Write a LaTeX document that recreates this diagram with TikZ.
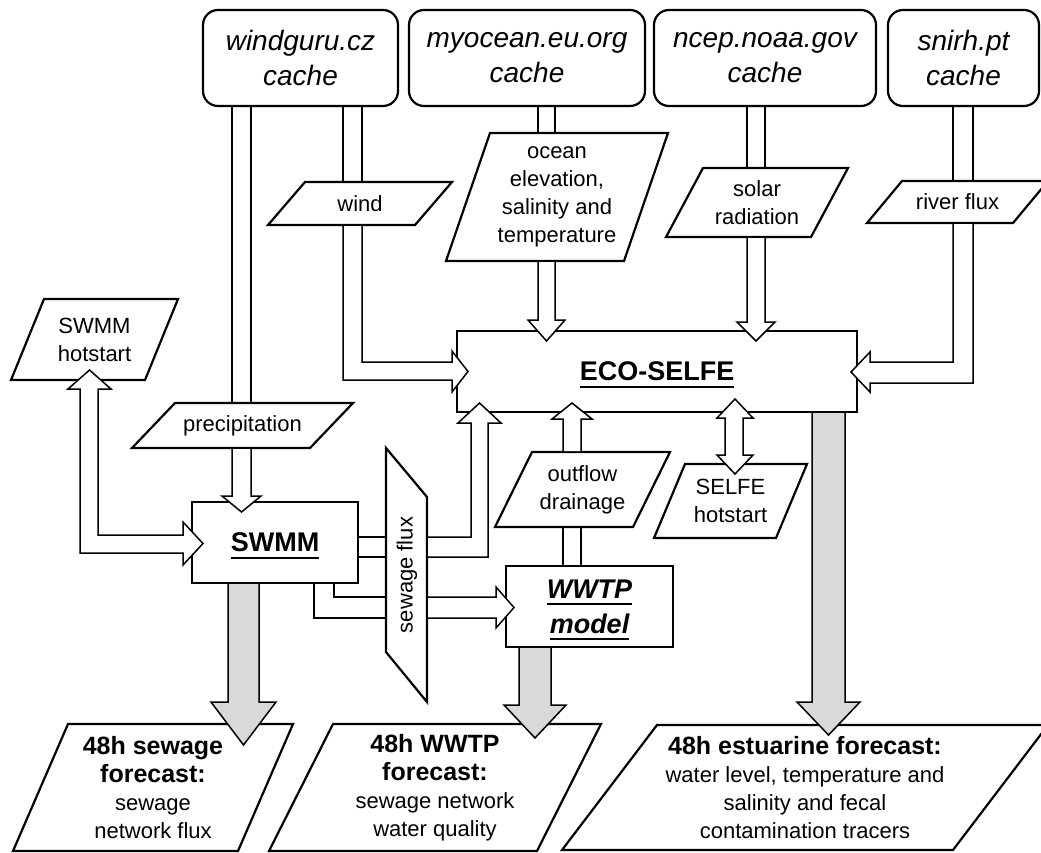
\documentclass[tikz,border=0pt]{standalone}
\usepackage{fontspec}
\setmainfont{Liberation Sans}
\definecolor{outgray}{RGB}{217,217,217}
% thick underline that does not add depth to the line
\newcommand{\ulword}[1]{\setbox0=\hbox{#1}\rlap{\smash{\rule[-7pt]{\wd0}{2pt}}}\box0}
% bold heading line inside forecast boxes
\newcommand{\fcbold}[1]{{\fontsize{25}{28}\selectfont\bfseries #1}}
% data parallelogram: name, x top-left, y top, x top-right, y bottom, slant, text
\newcommand{\plgram}[7]{%
  \draw[plg] (#2,#3) -- (#4,#3) -- ({#4-#6},#5) -- ({#2-#6},#5) -- cycle;
  \node[lbl] (#1) at ({(#2+#4-#6)/2},{(#3+#5)/2}) {#7};}
\tikzset{
  boxline/.style={draw, line width=2.2pt, inner sep=0pt},
  cache/.style={boxline, rounded corners=15pt, align=center,
    font=\fontsize{28}{35}\selectfont\itshape},
  model/.style={boxline, align=center, font=\fontsize{27}{35}\selectfont\bfseries},
  plg/.style={draw, line width=2.2pt, line join=miter},
  lbl/.style={inner sep=0pt, align=center, font=\fontsize{22}{28}\selectfont},
  hollow/.style={draw, line width=1.5pt, fill=white, line join=miter},
  rail/.style={draw, line width=1.5pt},
  solidout/.style={draw, line width=1.5pt, fill=outgray, line join=miter}
}
\begin{document}
\begin{tikzpicture}[x=1pt,y=-1pt]
\useasboundingbox (0,0) rectangle (1041,852);
\clip (0,0) rectangle (1041,852);

% data sources
\node[cache, minimum width=195, minimum height=96] (wg) at (300.5,58) {windguru.cz\\cache};
\node[cache, minimum width=236, minimum height=96] (mo) at (527,58) {myocean.eu.org\\cache};
\node[cache, minimum width=222, minimum height=96] (nc) at (765,58) {ncep.noaa.gov\\cache};
\node[cache, minimum width=151, minimum height=96] (sn) at (963.5,58) {snirh.pt\\cache};

% models
\node[model, minimum width=400, minimum height=81] (eco) at (657,371.5) {\ulword{ECO-SELFE}};
\node[model, minimum width=166, minimum height=81] (swmm) at (275,542.5) {\ulword{SWMM}};
\node[model, minimum width=167, minimum height=81,
  font=\fontsize{27}{35}\selectfont\bfseries\itshape] (wwtp) at (589.5,606.5) {\ulword{WWTP}\\\ulword{model}};

% sewage flux splitter
\draw[plg] (386,448) -- (427,497) -- (427,702) -- (386,652) -- cycle;
\node[lbl, rotate=90] (sflux) at (407,575) {sewage flux};

% data parallelograms
\plgram{wind}{305}{182}{452}{225}{37}{wind}
\plgram{prec}{175}{403}{353}{448}{43}{precipitation}
\plgram{ocean}{490}{133}{668}{261}{44}{ocean\\elevation,\\salinity and\\temperature}
\plgram{solar}{703}{168}{848}{237}{37}{solar\\radiation}
\plgram{river}{902}{181}{1048}{223}{35}{river flux}
\plgram{swhot}{44}{299}{178}{380}{33}{SWMM\\hotstart}
\plgram{outfl}{532}{452}{670}{527}{37}{outflow\\drainage}
\plgram{sehot}{685}{464}{807}{538}{31}{SELFE\\hotstart}
\plgram{sewfc}{68}{724}{293}{851}{55}{\fcbold{48h sewage}\\\fcbold{forecast:}\\sewage\\network flux}
\plgram{wwtpfc}{333}{724}{601}{851}{64}{\fcbold{48h WWTP}\\\fcbold{forecast:}\\sewage network\\water quality}
\plgram{estfc}{657}{725}{1048}{850}{95}{\fcbold{48h estuarine forecast:}\\water level, temperature and\\salinity and fecal\\contamination tracers}

% windguru -> precipitation -> SWMM
\draw[rail] (232,107) -- (232,403) (251,107) -- (251,403);
\draw[hollow] (232,449) -- (232,496) -- (222,496) -- (241.5,512) -- (261,496) -- (251,496) -- (251,449);

% windguru -> wind -> ECO-SELFE
\draw[rail] (343,107) -- (343,182) (362,107) -- (362,182);
\draw[hollow] (343,226) -- (343,380) -- (452,380) -- (452,392) -- (468,371.5) -- (452,351) -- (452,362) -- (362,362) -- (362,226);

% myocean -> ocean -> ECO-SELFE
\draw[rail] (538,107) -- (538,133) (555,107) -- (555,133);
\draw[hollow] (538,262) -- (538,320) -- (528,320) -- (546.5,341) -- (565,320) -- (555,320) -- (555,262);

% ncep -> solar -> ECO-SELFE
\draw[rail] (747,107) -- (747,168) (765,107) -- (765,168);
\draw[hollow] (747,238) -- (747,322) -- (737,322) -- (756,341) -- (775,322) -- (765,322) -- (765,238);

% snirh -> river flux -> ECO-SELFE
\draw[rail] (953,107) -- (953,181) (973,107) -- (973,181);
\draw[hollow] (953,224) -- (953,362) -- (870,362) -- (870,352) -- (851,372) -- (870,392) -- (870,383) -- (973,383) -- (973,224);

% SWMM hotstart <-> SWMM
\draw[hollow] (98,389) -- (111,389) -- (89.5,370) -- (68,389) -- (80,389) -- (80,553)
  -- (183,553) -- (183,565) -- (203,543.5) -- (183,522) -- (183,535) -- (98,535) -- cycle;

% SWMM -> sewage flux -> ECO-SELFE
\draw[rail] (359,537) -- (386,537) (359,557) -- (386,557);
\draw[hollow] (428,537) -- (471,537) -- (471,423) -- (458,423) -- (479.5,403) -- (501,423) -- (488,423) -- (488,557) -- (428,557);

% SWMM -> sewage flux -> WWTP
\draw[rail] (314,584) -- (314,618) -- (386,618) (334,584) -- (334,597) -- (386,597);
\draw[hollow] (428,597) -- (496,597) -- (496,587) -- (514,607.5) -- (496,628) -- (496,618) -- (428,618);

% WWTP -> outflow drainage -> ECO-SELFE
\draw[rail] (563,527) -- (563,565) (581,527) -- (581,565);
\draw[hollow] (563,451) -- (563,419) -- (552,419) -- (572,403) -- (592,419) -- (581,419) -- (581,451);

% ECO-SELFE <-> SELFE hotstart
\draw[hollow] (725,418) -- (717,418) -- (735,399) -- (753,418) -- (743,418) -- (743,455)
  -- (753,455) -- (735,474) -- (717,455) -- (725,455) -- cycle;

% forecast outputs
\draw[solidout] (228,584) -- (228,702) -- (211,702) -- (243.5,745) -- (276,702) -- (259,702) -- (259,584);
\draw[solidout] (519,648) -- (519,705) -- (504,705) -- (535,738) -- (566,705) -- (551,705) -- (551,648);
\draw[solidout] (812,413) -- (812,702) -- (797,702) -- (828.5,735) -- (860,702) -- (845,702) -- (845,413);
\end{tikzpicture}
\end{document}
